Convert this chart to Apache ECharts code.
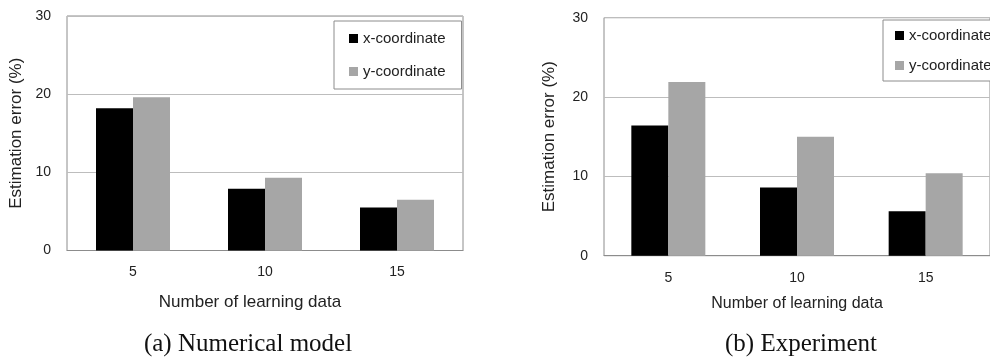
<!DOCTYPE html>
<html>
<head>
<meta charset="utf-8">
<script src="https://cdn.jsdelivr.net/npm/echarts@6/dist/echarts.min.js"></script>
<style>
  html, body { margin: 0; padding: 0; background: #fff; }
  #chart { width: 990px; height: 358px; }
</style>
</head>
<body>
<div id="chart"></div>
<script>
// Number of learning data (shared category axis)
const categories = ['5', '10', '15'];
const seriesNames = ['x-coordinate', 'y-coordinate'];

// (a) Numerical model — estimation error (%)
const modelX = [18.2, 7.9, 5.5];
const modelY = [19.6, 9.3, 6.5];

// (b) Experiment — estimation error (%)
const expX = [16.4, 8.6, 5.6];
const expY = [21.9, 15.0, 10.4];

const captions = ['(a) Numerical model', '(b) Experiment'];

const textColor = '#222';
const sans = 'Liberation Sans, Arial, sans-serif';
const black = '#000000';
const gray = '#a6a6a6';

function yAxis(gridIndex, nameGap) {
  return {
    type: 'value', gridIndex, min: 0, max: 30, interval: 10,
    name: 'Estimation error (%)', nameLocation: 'middle', nameGap,
    nameTextStyle: { color: textColor, fontFamily: sans, fontSize: 17 },
    axisLine: { show: false }, axisTick: { show: false },
    axisLabel: { color: textColor, fontFamily: sans, fontSize: 14, margin: 16 },
    splitLine: { lineStyle: { color: '#bdbdbd', width: 1 } }
  };
}
function xAxis(gridIndex, nameGap, fontSize, pad) {
  return {
    type: 'category', gridIndex, data: categories,
    name: 'Number of learning data', nameLocation: 'middle', nameGap,
    nameTextStyle: { color: textColor, fontFamily: sans, fontSize, padding: pad },
    axisLine: { lineStyle: { color: '#8c8c8c', width: 1 } },
    axisTick: { show: false },
    axisLabel: { color: textColor, fontFamily: sans, fontSize: 14, margin: 15 }
  };
}
function bar(name, data, idx, color) {
  return {
    type: 'bar', name, data, xAxisIndex: idx, yAxisIndex: idx,
    barWidth: 37, barGap: '0%',
    itemStyle: { color }
  };
}
function legend(left, top, gap, padding) {
  return {
    data: seriesNames, orient: 'vertical', left, top, itemGap: gap,
    padding, icon: 'rect', itemWidth: 9, itemHeight: 9,
    borderColor: '#8c8c8c', borderWidth: 1, backgroundColor: '#fff',
    textStyle: { color: textColor, fontFamily: sans, fontSize: 15 },
    selectedMode: false
  };
}

const captionFont = '25px "Liberation Serif", "Times New Roman", serif';

const chart = echarts.init(document.getElementById('chart'), null, { renderer: 'canvas' });
chart.setOption({
  animation: false,
  backgroundColor: '#fff',
  grid: [
    { left: 67, top: 16, width: 396, height: 234.5, show: true, borderColor: '#8c8c8c', borderWidth: 1, backgroundColor: 'transparent' },
    { left: 604, top: 17.7, width: 394, height: 238, show: true, borderColor: '#8c8c8c', borderWidth: 1, backgroundColor: 'transparent' }
  ],
  xAxis: [xAxis(0, 43, 17, [0, 30, 0, 0]), xAxis(1, 40, 16, [0, 0, 0, 0])],
  yAxis: [yAxis(0, 42), yAxis(1, 46)],
  legend: [
    legend(334, 21, 18, [10, 16, 10, 15]),
    legend(883, 20, 15, [8, 30, 8, 12])
  ],
  series: [
    bar(seriesNames[0], modelX, 0, black),
    bar(seriesNames[1], modelY, 0, gray),
    bar(seriesNames[0], expX, 1, black),
    bar(seriesNames[1], expY, 1, gray)
  ],
  graphic: [
    { type: 'text', x: 248, y: 344, style: { text: captions[0], fill: '#111', font: captionFont, textAlign: 'center', textVerticalAlign: 'middle' } },
    { type: 'text', x: 801, y: 344, style: { text: captions[1], fill: '#111', font: captionFont, textAlign: 'center', textVerticalAlign: 'middle' } }
  ]
});
</script>
</body>
</html>
